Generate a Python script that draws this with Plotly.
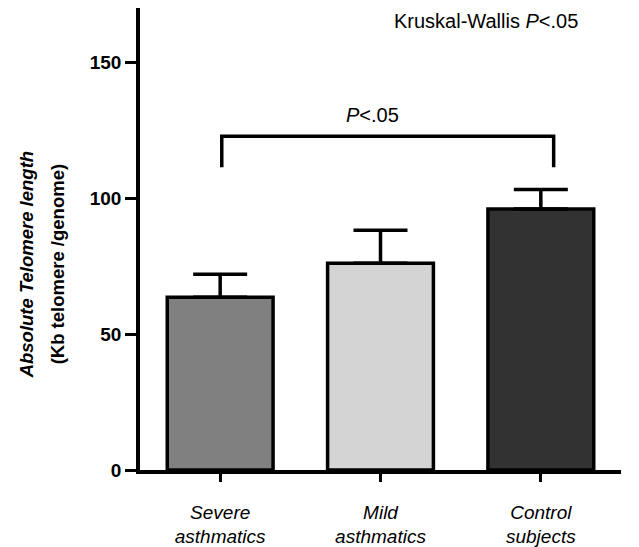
import plotly.graph_objects as go

categories = ["<i>Severe</i><br><i>asthmatics</i>", "<i>Mild</i><br><i>asthmatics</i>", "<i>Control</i><br><i>subjects</i>"]
means = [63.6, 76.1, 96.0]
sem_upper = [8.4, 12.1, 7.2]
bar_colors = ["#808080", "#d4d4d4", "#323232"]

bracket_x = [0.01, 0.01, 2.08, 2.08]
bracket_y = [111.4, 122.8, 122.8, 111.4]
bracket_label = "<i>P</i><.05"
bracket_label_pos = (0.95, 130.5)
kw_label = "Kruskal-Wallis <i>P</i><.05"
kw_label_pos = (1.66, 165.3)

y_title_1 = "<b><i>Absolute Telomere length</i></b>"
y_title_2 = "<b>(Kb telomere /genome)</b>"

y_ticks = [0, 50, 100, 150]
x_pos = [0, 1, 2]

FONT = "Liberation Sans, Arial, sans-serif"

fig = go.Figure()
fig.add_trace(go.Bar(
    x=x_pos, y=means, width=0.66,
    marker=dict(color=bar_colors, line=dict(color="black", width=3.5)),
    error_y=dict(type="data", array=sem_upper, arrayminus=[0, 0, 0], symmetric=False,
                 color="black", thickness=3.5, width=27),
    showlegend=False,
))
fig.add_trace(go.Scatter(
    x=bracket_x, y=bracket_y, mode="lines",
    line=dict(color="black", width=3.5), showlegend=False, hoverinfo="skip",
))

fig.add_annotation(x=bracket_label_pos[0], y=bracket_label_pos[1], text=bracket_label,
                   showarrow=False, font=dict(family=FONT, size=20, color="black"))
fig.add_annotation(x=kw_label_pos[0], y=kw_label_pos[1], text=kw_label,
                   showarrow=False, font=dict(family=FONT, size=20, color="black"))
fig.add_annotation(xref="paper", yref="paper", x=0, xshift=-126, y=0.444,
                   text=y_title_1, textangle=-90, showarrow=False,
                   font=dict(family=FONT, size=18.5, color="black"))
fig.add_annotation(xref="paper", yref="paper", x=0, xshift=-95, y=0.444,
                   text=y_title_2, textangle=-90, showarrow=False,
                   font=dict(family=FONT, size=18.5, color="black"))

fig.update_layout(
    width=631, height=539,
    margin=dict(l=132, r=18, t=0, b=77, autoexpand=False),
    plot_bgcolor="white", paper_bgcolor="white",
)
fig.update_xaxes(
    range=[-0.5, 2.5], tickmode="array", tickvals=x_pos, ticktext=categories,
    showline=True, linecolor="black", linewidth=3.5,
    ticks="outside", ticklen=8, tickwidth=3, tickcolor="black",
    tickfont=dict(family=FONT, size=19, color="black"),
    ticklabelstandoff=14, automargin=False,
    showgrid=False, zeroline=False,
)
fig.update_yaxes(
    range=[0, 170], tickmode="array", tickvals=y_ticks,
    showline=True, linecolor="black", linewidth=3.5,
    ticks="outside", ticklen=11, tickwidth=3, tickcolor="black",
    tickfont=dict(family=FONT, size=19, color="black", weight="bold"),
    automargin=False,
    showgrid=False, zeroline=False,
)

fig.write_html("out.html")
